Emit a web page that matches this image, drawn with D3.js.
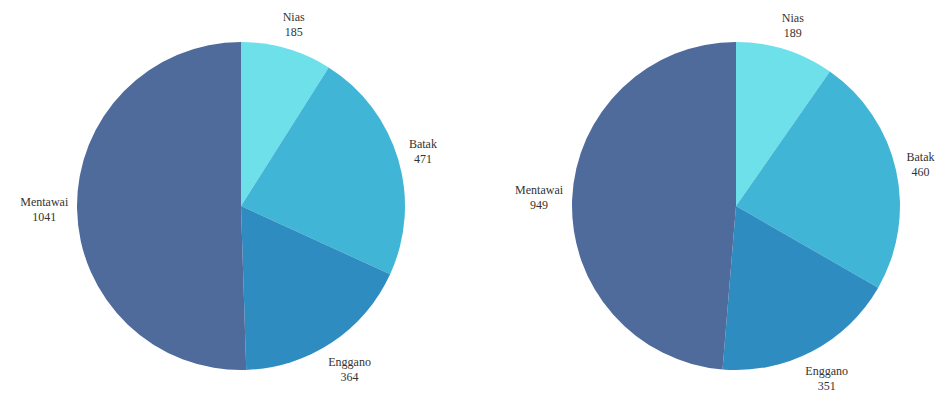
<!DOCTYPE html>
<html><head><meta charset="utf-8">
<script src="https://cdn.jsdelivr.net/npm/d3@7/dist/d3.min.js"></script>
<style>body{margin:0;background:#fff}svg{display:block}</style>
</head><body><svg id="c" width="936" height="394"></svg>
<script>
const categories = ["Nias", "Batak", "Enggano", "Mentawai"];
const valuesLeft = [185, 471, 364, 1041];
const valuesRight = [189, 460, 351, 949];
const colors = ["#6ee0e9", "#40b5d6", "#2e8cc0", "#4e6b9c"];

const svg = d3.select("#c");
const radius = 164;
const centers = [[241, 206], [736, 206]];
const color = d3.scaleOrdinal().domain(categories).range(colors);
const pie = d3.pie().sort(null).value(d => d.value);
const arc = d3.arc().innerRadius(0).outerRadius(radius);

[valuesLeft, valuesRight].forEach((vals, i) => {
  const data = categories.map((c, j) => ({cat: c, value: vals[j]}));
  const g = svg.append("g").attr("transform", `translate(${centers[i][0]},${centers[i][1]})`);
  const arcs = pie(data);
  g.selectAll("path").data(arcs).join("path")
    .attr("d", arc).attr("fill", d => color(d.data.cat));
  const R0 = radius * 1.05;
  arcs.forEach(d => {
    const a = (d.startAngle + d.endAngle) / 2;
    const t = g.append("text").attr("text-anchor", "middle")
      .attr("font-family", "'Liberation Serif', 'DejaVu Serif', 'Times New Roman', serif")
      .attr("font-size", "12px").attr("fill", "#333");
    t.append("tspan").attr("x", 0).attr("dy", "-0.2em").text(d.data.cat);
    t.append("tspan").attr("x", 0).attr("dy", "1.25em").text(d.data.value);
    const bb = t.node().getBBox();
    const hw = bb.width / 2, hh = bb.height / 2;
    const s = Math.sin(a), c = -Math.cos(a);
    const off = Math.abs(s) * hw + Math.abs(c) * hh;
    const cx = s * (R0 + off), cy = c * (R0 + off);
    const bcy = bb.y + hh;
    t.attr("transform", `translate(${cx},${cy - bcy})`);
  });
});
</script></body></html>
